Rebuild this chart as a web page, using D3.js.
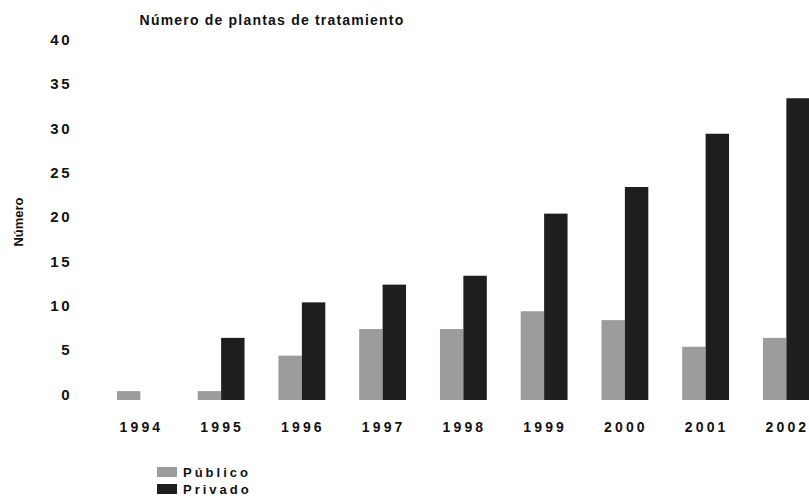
<!DOCTYPE html>
<html>
<head>
<meta charset="utf-8">
<script src="https://cdn.jsdelivr.net/npm/d3@7"></script>
<style>
  body { margin: 0; background: #fff; }
  text { font-family: "Liberation Sans", Arial, sans-serif; font-weight: bold; fill: #111; }
</style>
</head>
<body>
<svg id="chart"></svg>
<script>
(function(){

    var width = 809, height = 498;

    // data
    var years = ["1994", "1995", "1996", "1997", "1998", "1999", "2000", "2001", "2002"];
    var publico = [1, 1, 5, 8, 8, 10, 9, 6, 7];
    var privado = [0, 7, 11, 13, 14, 21, 24, 30, 34];
    var yTicks = [0, 5, 10, 15, 20, 25, 30, 35, 40];
    var seriesNames = ["Público", "Privado"];
    var colors = ["#9c9c9c", "#1e1e1e"];

    let svg = d3.select("svg#chart")
        .attr("width", width)
        .attr("height", height);

    let yScale = d3.scaleLinear()
        .domain([0, 40])
        .range([400, 45]);

    let xScale = d3.scaleBand()
        .domain(years)
        .range([100, 826.75])
        .paddingInner(0.42)
        .paddingOuter(0.21);

    let inner = d3.scaleBand()
        .domain(seriesNames)
        .range([0, xScale.bandwidth()]);

    // title
    svg.append("text")
        .attr("x", 272)
        .attr("y", 25)
        .attr("text-anchor", "middle")
        .style("font-size", "14px")
        .style("letter-spacing", "1.2px")
        .text("Número de plantas de tratamiento");

    // y axis, labels only
    let yAxis = svg.append("g")
        .attr("transform", "translate(72,0)")
        .call(d3.axisLeft(yScale).tickValues(yTicks).tickSize(0).tickPadding(0));
    yAxis.select(".domain").remove();
    yAxis.selectAll("text")
        .attr("dy", "-0.05em")
        .style("font-size", "15px")
        .style("letter-spacing", "2.5px")
        .style("font-family", null);

    svg.append("text")
        .attr("transform", "translate(23,222) rotate(-90)")
        .attr("text-anchor", "middle")
        .style("font-size", "13px")
        .text("Número");

    // x axis, labels only
    let xAxis = svg.append("g")
        .attr("transform", "translate(0,400)")
        .call(d3.axisBottom(xScale).tickSize(0).tickPadding(22));
    xAxis.select(".domain").remove();
    xAxis.selectAll("text")
        .attr("dx", "1px")
        .style("font-size", "14px")
        .style("letter-spacing", "3.2px")
        .style("font-family", null);

    let rows = years.map(function(y, i) {
        return {year: y, values: [publico[i], privado[i]]};
    });

    let groups = svg.append("g")
        .selectAll("g.year")
        .data(rows)
        .enter()
        .append("g")
        .attr("class", "year")
        .attr("transform", function(d) { return "translate(" + xScale(d.year) + ",0)"; });

    groups.selectAll("rect")
        .data(function(d) { return d.values.map(function(v, j) { return {name: seriesNames[j], value: v, k: j}; }); })
        .enter()
        .append("rect")
        .attr("x", function(d) { return inner(d.name); })
        .attr("width", inner.bandwidth())
        .attr("y", function(d) { return yScale(d.value); })
        .attr("height", function(d) { return yScale(0) - yScale(d.value); })
        .style("fill", function(d) { return colors[d.k]; });

    // legend
    let legend = svg.append("g")
        .selectAll("g")
        .data(seriesNames)
        .enter()
        .append("g")
        .attr("transform", function(d, i) { return "translate(157," + (467 + i * 17) + ")"; });

    legend.append("rect")
        .attr("width", 20)
        .attr("height", 10)
        .style("fill", function(d, i) { return colors[i]; });

    legend.append("text")
        .attr("x", 26)
        .attr("y", 10)
        .style("font-size", "13px")
        .style("letter-spacing", "3px")
        .text(function(d) { return d; });

})();
</script>
</body>
</html>
